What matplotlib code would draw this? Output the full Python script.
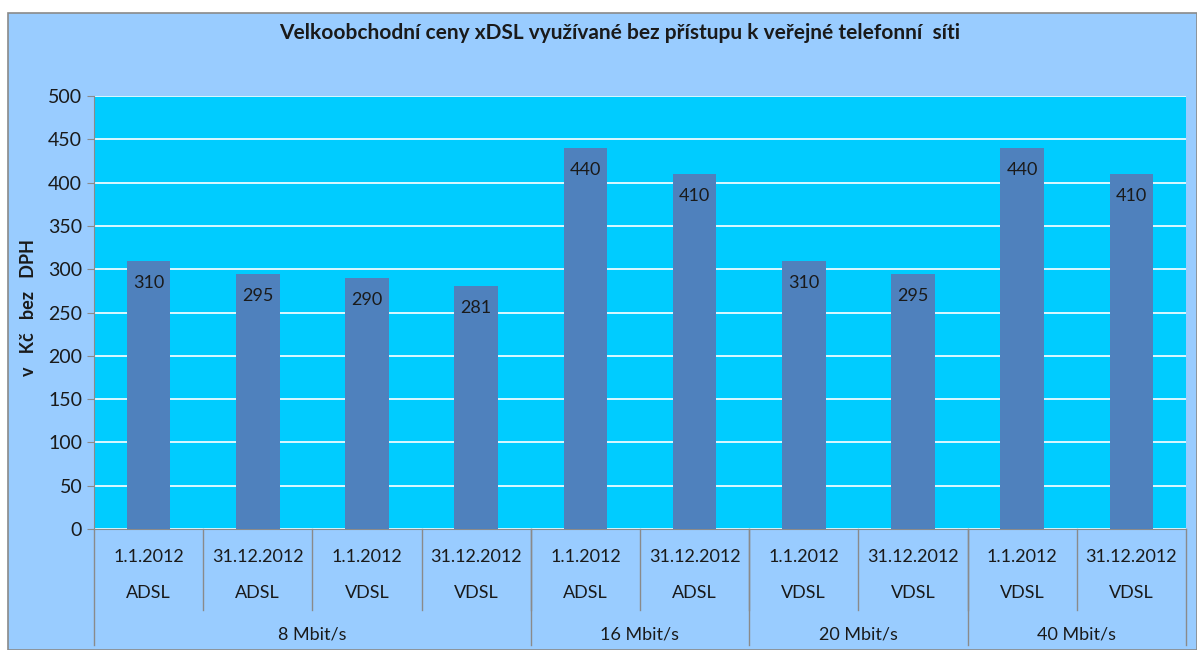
import numpy as np
import matplotlib.pyplot as plt
from matplotlib.patches import Rectangle

# data
values = [310, 295, 290, 281, 440, 410, 310, 295, 440, 410]
dates = ["1.1.2012", "31.12.2012"] * 5
techs = ["ADSL", "ADSL", "VDSL", "VDSL", "ADSL", "ADSL", "VDSL", "VDSL", "VDSL", "VDSL"]
groups = ["8 Mbit/s", "16 Mbit/s", "20 Mbit/s", "40 Mbit/s"]
group_sizes = [4, 2, 2, 2]

plt.rcParams['font.family'] = ['Lato', 'DejaVu Sans']

fig = plt.figure(figsize=(11.97, 6.5), dpi=100)
fig.patch.set_facecolor('white')
# outer chart frame
fig.patches.append(Rectangle((8/1197, 0), 1 - 8/1197, 1 - 13/650, transform=fig.transFigure,
                             facecolor='#99CCFF', edgecolor='#8a8a8a', lw=1.2, zorder=-10))

ax = fig.add_axes([94/1197, 121/650, 1092/1197, 433/650])
ax.set_facecolor('#00CCFF')
x = np.arange(len(values))
ax.bar(x, values, width=0.4, color='#4F81BD', zorder=3)
for xi, v in zip(x, values):
    ax.annotate(str(v), (xi, v), xytext=(0, -22), textcoords='offset pixels',
                ha='center', va='center', fontsize=13, color='#1a1a1a', zorder=4)

ax.set_xlim(-0.5, len(values) - 0.5)
ax.set_ylim(0, 500)
ax.set_yticks(np.arange(0, 501, 50))
ax.yaxis.grid(True, color='white', lw=1.2)
ax.set_axisbelow(True)
ax.tick_params(axis='y', labelsize=14, length=5, color='#8a8a8a', labelcolor='#1a1a1a')
ax.set_xticks([])
for s in ['top', 'right']:
    ax.spines[s].set_visible(False)
ax.spines['left'].set_color('#8a8a8a')
ax.spines['bottom'].set_color('#8a8a8a')

# multi-level category axis
tr = ax.get_xaxis_transform()
for xi in x:
    ax.text(xi, -0.065, dates[xi], transform=tr, ha='center', va='center', fontsize=13, color='#1a1a1a')
    ax.text(xi, -0.148, techs[xi], transform=tr, ha='center', va='center', fontsize=13, color='#1a1a1a')
for b in np.arange(0.5, len(values) - 0.5, 1):
    ax.plot([b, b], [0, -0.187], transform=tr, color='#8a8a8a', lw=1, clip_on=False)
start = 0
edges = [-0.5]
for name, n in zip(groups, group_sizes):
    ax.text(start + (n - 1) / 2, -0.2425, name, transform=tr, ha='center', va='center',
            fontsize=13, color='#1a1a1a')
    start += n
    edges.append(start - 0.5)
for e in edges:
    ax.plot([e, e], [0, -0.268], transform=tr, color='#8a8a8a', lw=1, clip_on=False)

fig.text(0.518, 1 - 33/650, "Velkoobchodní ceny xDSL využívané bez přístupu k veřejné telefonní  síti",
         ha='center', va='center', fontsize=15, fontweight='bold', color='#1a1a1a')
fig.text(28/1197, 1 - 308/650, "v   Kč   bez   DPH", rotation=90, ha='center', va='center',
         fontsize=13, fontweight='bold', color='#1a1a1a')

fig.savefig('out.png', dpi=100)
